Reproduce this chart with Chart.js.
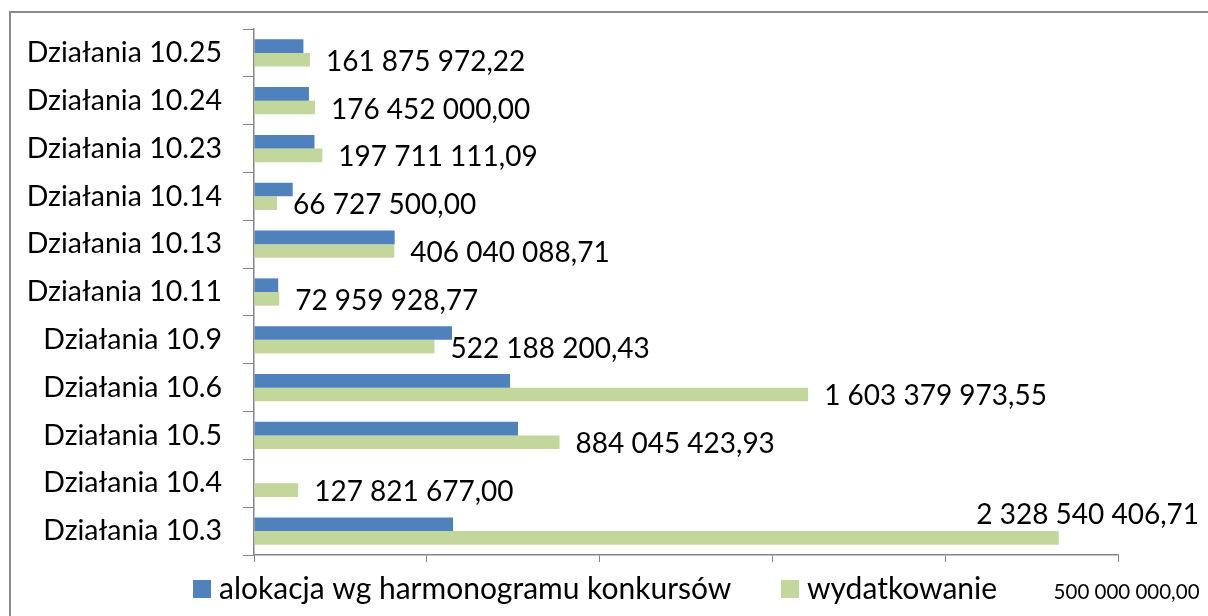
<!DOCTYPE html>
<html>
<head>
<meta charset="utf-8">
<script src="https://cdn.jsdelivr.net/npm/chart.js@4.4.1/dist/chart.umd.min.js"></script>
<style>
  html, body { margin: 0; padding: 0; background: #fff; overflow: hidden; }
  #wrap { position: relative; width: 1208px; height: 616px; }
</style>
</head>
<body>
<div id="wrap"><canvas id="chart"></canvas></div>
<script>
// categories, top to bottom as in the picture
const categories = [
    'Działania 10.25', 'Działania 10.24', 'Działania 10.23', 'Działania 10.14',
    'Działania 10.13', 'Działania 10.11', 'Działania 10.9', 'Działania 10.6',
    'Działania 10.5', 'Działania 10.4', 'Działania 10.3'
];
const seriesNames = ['alokacja wg harmonogramu konkursów', 'wydatkowanie'];
// blue bars (no labels in the picture)
const alokacja = [143000000, 159000000, 175000000, 112000000, 407000000, 70000000,
    573000000, 741000000, 764000000, 0, 576000000];
// green bars, values from the data labels
const wydatkowanie = [161875972.22, 176452000.00, 197711111.09, 66727500.00, 406040088.71,
    72959928.77, 522188200.43, 1603379973.55, 884045423.93, 127821677.00, 2328540406.71];
const tickLabels = ['0,00', '500 000 000,00', '1 000 000 000,00', '1 500 000 000,00',
    '2 000 000 000,00', '2 500 000 000,00'];

const FONT = 'Lato, "Noto Sans", sans-serif';
const colors = ['#4F81BD', '#C3D69B'];

// Polish number format: space thousands, comma decimals
function fmt(v) {
    const parts = v.toFixed(2).split('.');
    return parts[0].replace(/\B(?=(\d{3})+(?!\d))/g, ' ') + ',' + parts[1];
}

const frame = {
    id: 'frame',
    beforeDraw(chart) {
        const ctx = chart.ctx;
        ctx.save();
        ctx.strokeStyle = '#8c8c8c';
        ctx.lineWidth = 2;
        ctx.strokeRect(10, 12, 1300, 700);
        ctx.restore();
    }
};

const valueLabels = {
    id: 'valueLabels',
    afterDatasetsDraw(chart) {
        const ctx = chart.ctx;
        const meta = chart.getDatasetMeta(1);
        ctx.save();
        ctx.font = '28px ' + FONT;
        ctx.fillStyle = '#000';
        ctx.textBaseline = 'middle';
        meta.data.forEach((bar, i) => {
            const txt = fmt(wydatkowanie[i]);
            const w = ctx.measureText(txt).width;
            let x = bar.x + 16;
            let y = bar.y + 2;
            if (x + w > chart.width - 8) {
                x = chart.width - 9 - w;
                y = bar.y - 23;
            }
            ctx.fillText(txt, x, y);
        });
        ctx.restore();
    }
};

// legend drawn on a white box that hides most x tick labels, like the original
const boxLegend = {
    id: 'boxLegend',
    afterDraw(chart) {
        const ctx = chart.ctx;
        ctx.save();
        ctx.fillStyle = '#fff';
        ctx.fillRect(185, 568, 865, 48);
        ctx.font = '30px ' + FONT;
        ctx.textBaseline = 'middle';
        const items = [{ x: 193 }, { x: 781 }];
        items.forEach((it, i) => {
            ctx.fillStyle = colors[i];
            ctx.fillRect(it.x, 580, 18, 18);
            ctx.fillStyle = '#000';
            ctx.fillText(chart.data.datasets[i].label, it.x + 26, 589);
        });
        ctx.restore();
    }
};

new Chart(document.getElementById('chart'), {
    type: 'bar',
    data: {
        labels: categories,
        datasets: [
            { label: seriesNames[0], data: alokacja, backgroundColor: colors[0] },
            { label: seriesNames[1], data: wydatkowanie, backgroundColor: colors[1] }
        ]
    },
    options: {
        indexAxis: 'y',
        responsive: true,
        maintainAspectRatio: false,
        animation: false,
        layout: { padding: { top: 29, right: 90, bottom: 0, left: 0 } },
        datasets: { bar: { barPercentage: 1, categoryPercentage: 0.57 } },
        plugins: {
            legend: { display: false },
            tooltip: { enabled: false }
        },
        scales: {
            x: {
                min: 0,
                max: 2500000000,
                ticks: {
                    stepSize: 500000000,
                    autoSkip: false,
                    maxRotation: 0,
                    minRotation: 0,
                    padding: 18,
                    color: '#000',
                    font: { family: FONT, size: 20.5 },
                    callback: (v, i) => tickLabels[i]
                },
                grid: { drawOnChartArea: false, tickLength: 7, color: '#868686' },
                border: { color: '#868686', width: 1.5 },
                afterFit: (s) => { s.height = 61; s.paddingLeft = 0; s.paddingRight = 0; }
            },
            y: {
                ticks: {
                    padding: 21,
                    color: '#000',
                    font: { family: FONT, size: 28.5 }
                },
                grid: { drawOnChartArea: false, tickLength: 11, color: '#868686', offset: true },
                border: { color: '#868686', width: 1.5 },
                afterFit: (s) => { s.width = 254; s.paddingTop = 0; s.paddingBottom = 0; }
            }
        }
    },
    plugins: [frame, valueLabels, boxLegend]
});
</script>
</body>
</html>
